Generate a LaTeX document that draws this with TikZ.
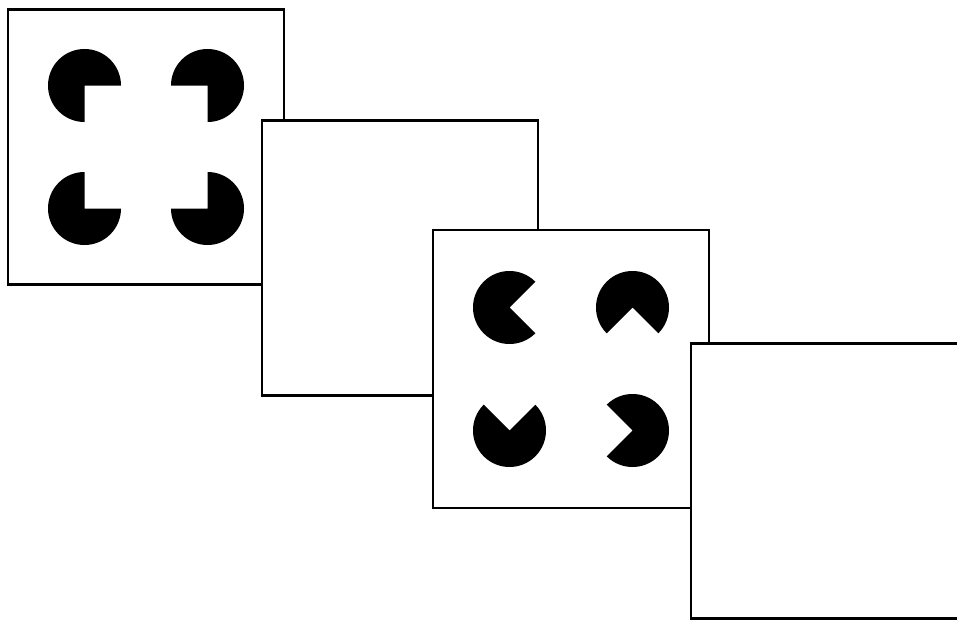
\documentclass[tikz,border=0pt]{standalone}
\begin{document}
\begin{tikzpicture}[x=0.02cm, y=0.02cm,
    frame/.style={rectangle, draw, fill=white, line width=1.3pt,
                  minimum width=5.52cm, minimum height=5.5cm, inner sep=0pt},
    inducer/.style={fill=black}
]
    \clip (0,0) rectangle (957,620);

    \node[frame] (f1) at (146,473) {};
    \foreach \dx/\dy/\a/\b in {-61.5/61.5/0/270, 61.5/61.5/-90/180,
                               -61.5/-61.5/90/360, 61.5/-61.5/180/450}
        \fill[inducer, shift={(f1.center)}] (\dx,\dy) -- ++(\a:36.5)
            arc[start angle=\a, end angle=\b, radius=36.5] -- cycle;

    \node[frame] (f2) at (400,362) {};

    \node[frame, minimum height=5.56cm] (f3) at (571,251) {};
    \foreach \dx/\dy/\a/\b in {-61.5/61.5/45/315, 61.5/61.5/-45/225,
                               -61.5/-61.5/135/405, 61.5/-61.5/225/495}
        \fill[inducer, shift={(f3.center)}] (\dx,\dy) -- ++(\a:36.5)
            arc[start angle=\a, end angle=\b, radius=36.5] -- cycle;

    \node[frame] (f4) at (829,139) {};
\end{tikzpicture}
\end{document}
